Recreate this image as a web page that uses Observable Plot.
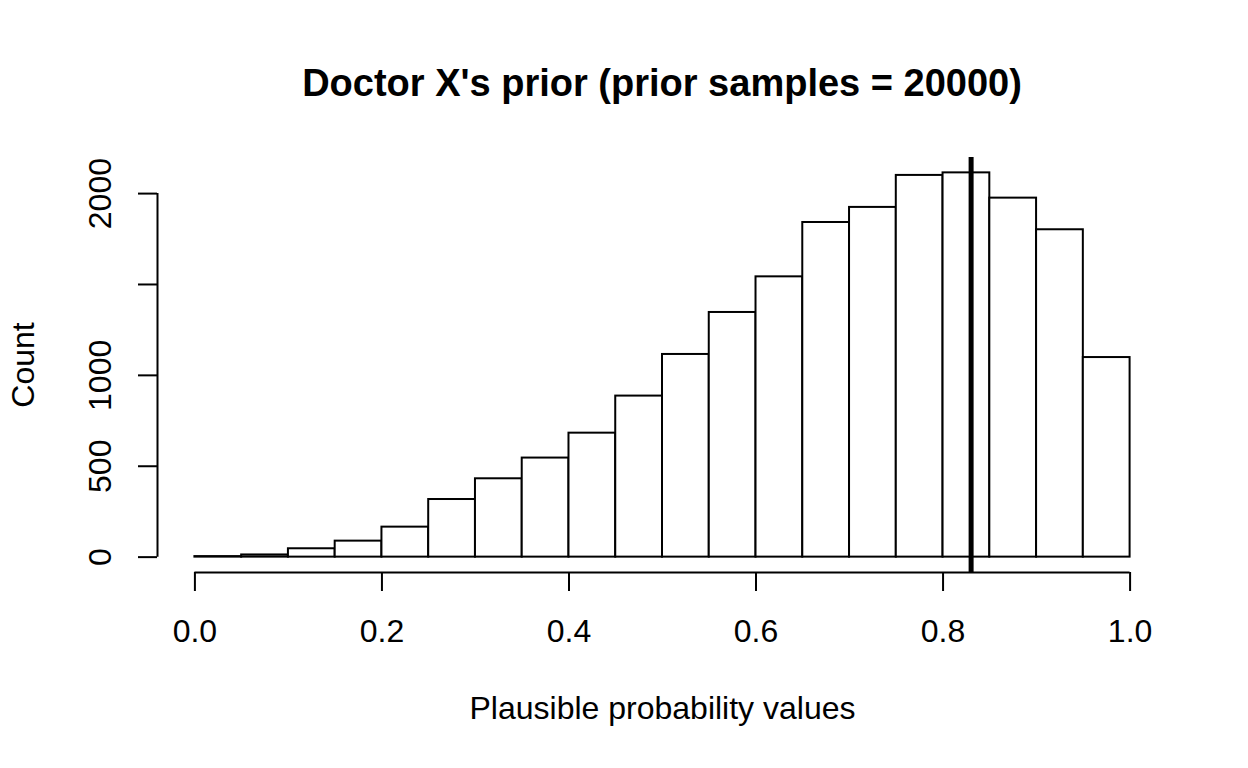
<!DOCTYPE html>
<html>
<head>
<meta charset="utf-8">
<script src="https://cdn.jsdelivr.net/npm/d3@7"></script>
<script src="https://cdn.jsdelivr.net/npm/@observablehq/plot@0.6"></script>
<style>
  html, body { margin: 0; padding: 0; background: #fff; }
  #wrap { width: 1248px; height: 768px; position: relative; overflow: hidden; }
  #title { height: 120px; width: 1248px; position: relative; }
  #title span {
    position: absolute; left: 157px; width: 1010px; top: 64px;
    text-align: center; font: bold 38px/38px "Liberation Sans", Arial, Helvetica, sans-serif;
    color: #000; white-space: nowrap;
  }
  svg { display: block; }
</style>
</head>
<body>
<div id="wrap">
  <div id="title"><span>Doctor X's prior (prior samples = 20000)</span></div>
  <div id="chart"></div>
</div>
<script>
// Histogram bin edges (left, right)
const binStart = [0.00, 0.05, 0.10, 0.15, 0.20, 0.25, 0.30, 0.35, 0.40, 0.45, 0.50, 0.55, 0.60, 0.65, 0.70, 0.75, 0.80, 0.85, 0.90, 0.95];
const binEnd   = [0.05, 0.10, 0.15, 0.20, 0.25, 0.30, 0.35, 0.40, 0.45, 0.50, 0.55, 0.60, 0.65, 0.70, 0.75, 0.80, 0.85, 0.90, 0.95, 1.00];
// Counts per bin
const counts   = [3, 12, 46, 88, 165, 317, 431, 545, 682, 886, 1115, 1346, 1542, 1841, 1924, 2100, 2114, 1975, 1801, 1098];
// Reference line (mode / summary value)
const refValue = [0.83];
// Tick values
const xTicks = [0, 0.2, 0.4, 0.6, 0.8, 1.0];
const yTicks = [0, 500, 1000, 1500, 2000];
const yTickLabels = ["0", "500", "1000", "", "2000"];

const bins = binStart.map((s, i) => ({x1: s, x2: binEnd[i], count: counts[i]}));

// R-style 4% axis extension
const xMin = xTicks[0], xMax = xTicks[xTicks.length - 1];
const xPad = (xMax - xMin) * 0.04;
const yMax = d3.max(counts);
const yPad = yMax * 0.04;
const xDomain = [xMin - xPad, xMax + xPad];
const yDomain = [0 - yPad, yMax + yPad];

const font = '"Liberation Sans", Arial, Helvetica, sans-serif';

const chart = Plot.plot({
  width: 1248,
  height: 648,
  marginTop: 37,
  marginBottom: 196,
  marginLeft: 157,
  marginRight: 81,
  style: {fontFamily: font, color: "#000", background: "#fff", overflow: "visible"},
  x: {domain: xDomain},
  y: {domain: yDomain},
  marks: [
    Plot.rect(bins, {x1: "x1", x2: "x2", y1: () => 0, y2: "count", fill: "white", stroke: "black", strokeWidth: 2}),
    Plot.ruleX(refValue, {stroke: "black", strokeWidth: 5}),
    // axis lines
    Plot.ruleY([yDomain[0]], {x1: xMin, x2: xMax, stroke: "black", strokeWidth: 2}),
    Plot.ruleX([xDomain[0]], {y1: yTicks[0], y2: yTicks[yTicks.length - 1], stroke: "black", strokeWidth: 2}),
    Plot.axisX({
      ticks: xTicks, tickFormat: d3.format(".1f"), tickSize: 19, tickPadding: 28,
      fontSize: 32, strokeWidth: 2,
      label: "Plausible probability values", labelAnchor: "center", labelOffset: 146, labelArrow: "none"
    }),
    Plot.axisY({
      ticks: yTicks, tickFormat: (d, i) => yTickLabels[yTicks.indexOf(d)], tickSize: 19, tickPadding: 28,
      tickRotate: -90, fontSize: 32, strokeWidth: 2,
      label: "Count", labelAnchor: "center", labelOffset: 146, labelArrow: "none"
    })
  ]
});
document.getElementById("chart").appendChild(chart);
</script>
</body>
</html>
